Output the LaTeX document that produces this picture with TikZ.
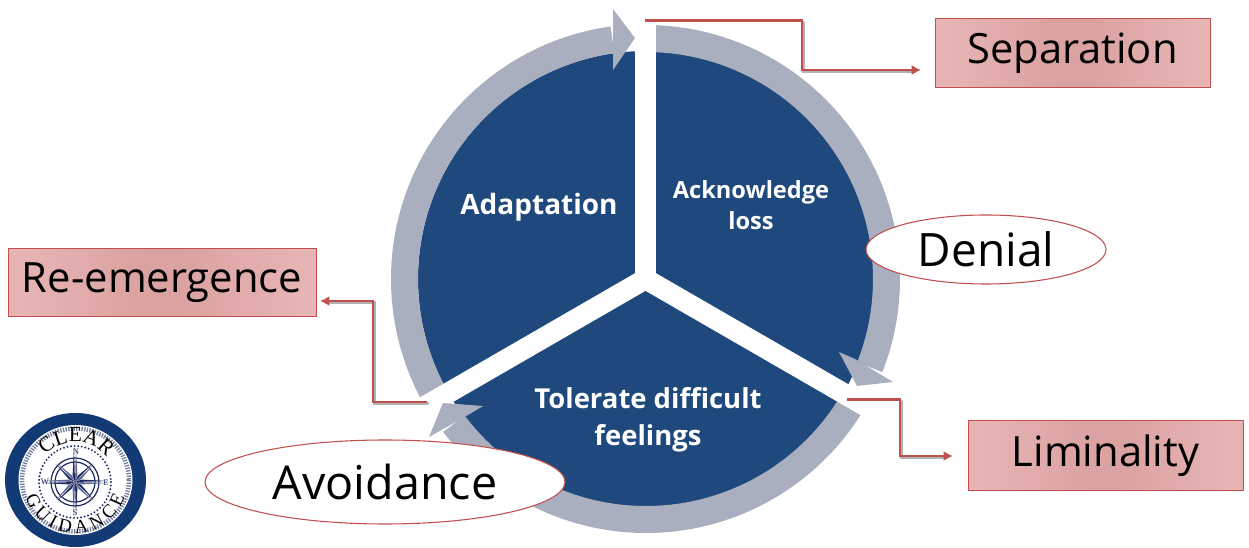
\documentclass[tikz,border=0pt]{standalone}
\usepackage{fontspec}
\setmainfont{Open Sans}
\newfontfamily\logoserif{Liberation Serif}
\usetikzlibrary{decorations.text,shapes.geometric,shadings,calc,arrows.meta}
\definecolor{wheel}{HTML}{1F497D}
\definecolor{band}{HTML}{A9AFBF}
\definecolor{redline}{HTML}{C0504D}
\definecolor{pinkA}{HTML}{E6B4B3}
\definecolor{pinkB}{HTML}{DAA2A1}
\definecolor{logoblue}{HTML}{123A75}
\definecolor{logonavy}{HTML}{1E2A63}
\pgfdeclarehorizontalshading{pinkbar}{100bp}{color(0bp)=(pinkA);color(28bp)=(pinkA);color(47bp)=(pinkB);color(53bp)=(pinkB);color(72bp)=(pinkA);color(100bp)=(pinkA)}
\tikzset{
  px/.style={x=0.75pt,y=-0.75pt},
  labelbox/.style={draw=redline,line width=0.75pt,shading=pinkbar,rectangle,inner sep=0pt,font=\fontsize{31.3}{36}\selectfont,text=black},
  oval/.style={draw=redline,line width=0.8pt,fill=white,ellipse,inner sep=0pt,text=black},
  wheeltext/.style={text=white,font=\bfseries\fontsize{20.6}{27.75}\selectfont,align=center,inner sep=0pt},
  link/.style={draw=redline,line width=2pt,-{Latex[length=7pt,width=7.5pt]}},
  linkshadow/.style={draw=black!30,line width=2.2pt,line cap=round},
  bandarc/.style={fill=band},
  gap/.style={draw=white,line width=15.4pt},
  logoletter/.style={font=\logoserif\fontsize{6.5}{6.5}\selectfont,text=logonavy,inner sep=0pt},
}
\begin{document}
\begin{tikzpicture}[px]
\useasboundingbox (0,0) rectangle (1249,548);
% wheel
\coordinate (c) at (646,279);
\fill[wheel] (c) circle[radius=228];
% bands
\fill[bandarc] (646,279) ++(-90:254) arc[start angle=-90,end angle=21.5,radius=254]
  -- ++(201.5:27) arc[start angle=21.5,end angle=-90,radius=227] -- cycle;
\fill[bandarc] (646,279) ++(28:254) arc[start angle=28,end angle=143,radius=254]
  -- ++(-37:27) arc[start angle=143,end angle=28,radius=227] -- cycle;
\fill[bandarc] (646,279) ++(148:255) arc[start angle=148,end angle=262,radius=255]
  -- ++(82:27) arc[start angle=262,end angle=148,radius=228] -- cycle;
% gaps
\coordinate (g0) at (645.5,279);
\coordinate (g1) at (645.5,0);
\coordinate (g2) at ($(g0)+(30:270)$);
\coordinate (g3) at ($(g0)+(150:270)$);
\draw[gap] (g0) -- (g1);
\draw[gap] (g0) -- (g2);
\draw[gap] (g0) -- (g3);
% arrow heads
\fill[band] (613,26) -- (613,9) -- (635,38) -- (613,70) -- (613,53) -- cycle;
\fill[band] (855,359) -- (839,352) -- (857,386) -- (893,382) -- (878,373) -- cycle;
\fill[band] (468,415) -- (483,406) -- (443,403) -- (429,437) -- (445,428) -- cycle;
% wheel labels
\node[wheeltext,font=\bfseries\fontsize{21}{27}\selectfont] (adapt) at (539,207) {Adaptation};
\node[wheeltext,font=\bfseries\fontsize{17.7}{23}\selectfont] (ack) at (751,205) {Acknowledge\\loss};
\node[wheeltext] (tol) at (648,420) {Tolerate difficult\\feelings};
% boxes
\node[labelbox,minimum width=206.25pt,minimum height=51.75pt] (sep) at (1072.5,53.5) {\raisebox{-3.5pt}{Separation}};
\node[labelbox,minimum width=206.25pt,minimum height=52.5pt] (lim) at (1105.5,456) {\raisebox{-3.5pt}{Liminality}};
\node[labelbox,minimum width=231pt,minimum height=51pt] (re) at (162,283) {\raisebox{-3.5pt}{Re-emergence}};
% connectors
\coordinate (s1) at (645,20.5);
\coordinate (s2) at (921,70);
\coordinate (l1) at (847,399.5);
\coordinate (r1) at (427,402);
\coordinate (r2) at (320,301);
\draw[linkshadow] (803.8,22.3) -- (803.8,71.8) -- (915,71.8);
\draw[linkshadow] (901.8,401.3) -- (901.8,457.8) -- (947,457.8);
\draw[linkshadow] (428,403.8) -- (374.8,403.8) -- (374.8,302.8) -- (326,302.8);
\draw[link] (s1) -- (802,20.5) -- (802,70) -- (s2);
\draw[link,shorten >=11pt] (l1) -- (900,399.5) -- (900,456) -- (lim.west);
\draw[link] (r1) -- (373,402) -- (373,301) -- (r2);
% ovals
\node[oval,minimum width=180pt,minimum height=51.75pt,font=\fontsize{34.5}{40}\selectfont] (den) at (986,249.5) {Denial};
\node[oval,minimum width=270pt,minimum height=63pt,font=\fontsize{35}{40}\selectfont] (avo) at (385,482) {Avoidance};
% logo
\coordinate (lg) at (75.5,480);
\fill[logoblue] (lg) ellipse[x radius=70.5,y radius=67];
\fill[white] (lg) ellipse[x radius=57,y radius=55];
\draw[logonavy!60,line width=3.4pt,dash pattern=on 1pt off 1pt] (lg) ellipse[x radius=53.5,y radius=51.5];
\draw[logonavy,line width=1.6pt,dash pattern=on 0pt off 2.7pt,line cap=round] (75,482) circle[radius=36];
\draw[logonavy,line width=0.9pt] (75,482) circle[radius=24] (75,482) circle[radius=20];
\foreach \a in {45,135,225,315}{
  \fill[logonavy] (75,482) -- ++(\a-20:7) -- ++(\a+5:19) -- cycle;
  \fill[logonavy!70] (75,482) -- ++(\a+20:7) -- ++(\a-5:19) -- cycle;
}
\foreach \a in {0,90,180,270}{
  \fill[logonavy] (75,482) -- ++(\a-20:7) -- ++(\a+3:27) -- cycle;
  \fill[logonavy!70] (75,482) -- ++(\a+20:7) -- ++(\a-3:27) -- cycle;
}
\node[logoletter] (ln) at (76,452) {N};
\node[logoletter] (ls) at (75,513) {S};
\node[logoletter] (le) at (106,483) {E};
\node[logoletter] (lw) at (45,482) {W};
\path[decorate,decoration={text along path,text align={fit to path},text={|\fontsize{16}{16}\logoserif\color{black}|CLEAR}}] (75,482) ++(222:40) arc[start angle=222,end angle=318,radius=40];
\path[decorate,decoration={text along path,text align={fit to path},text={|\fontsize{14}{14}\logoserif\color{black}|GUIDANCE}}] (75,481) ++(162:52) arc[start angle=162,end angle=18,radius=52];
\end{tikzpicture}
\end{document}
